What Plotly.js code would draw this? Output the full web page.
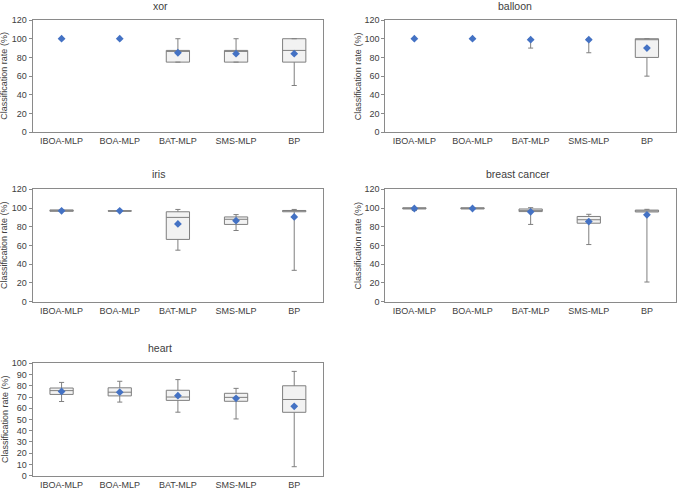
<!DOCTYPE html>
<html>
<head>
<meta charset="utf-8">
<script src="https://cdn.plot.ly/plotly-3.0.1.min.js"></script>
<style>html,body{margin:0;padding:0;background:#fff;}#chart{width:677px;height:489px;}</style>
</head>
<body>
<div id="chart"></div>
<script>
const categories = ['IBOA-MLP', 'BOA-MLP', 'BAT-MLP', 'SMS-MLP', 'BP'];
const datasetNames = ['xor', 'balloon', 'iris', 'breast cancer', 'heart'];

const xorMin  = [100, 100, 75, 75, 50];
const xorQ1   = [100, 100, 75, 75, 75];
const xorMed  = [100, 100, 87.5, 87.5, 87.5];
const xorQ3   = [100, 100, 87.5, 87.5, 100];
const xorMax  = [100, 100, 100, 100, 100];
const xorMean = [100, 100, 85, 84, 84];

const balloonMin  = [100, 100, 90, 85, 60];
const balloonQ1   = [100, 100, 100, 100, 80];
const balloonMed  = [100, 100, 100, 100, 100];
const balloonQ3   = [100, 100, 100, 100, 100];
const balloonMax  = [100, 100, 100, 100, 100];
const balloonMean = [100, 100, 99, 99, 90];

const irisMin  = [96.5, 96.67, 55, 76, 33.5];
const irisQ1   = [96.5, 96.67, 66.5, 82.5, 96];
const irisMed  = [97.2, 96.67, 90, 88, 97];
const irisQ3   = [98, 97.2, 96, 90.5, 97.4];
const irisMax  = [98, 97.2, 98.5, 93, 98.5];
const irisMean = [97, 97, 83, 86.5, 90.5];

const breastMin  = [97.3, 99, 82.5, 61, 21];
const breastQ1   = [99, 99, 96.2, 83.8, 95.8];
const breastMed  = [99.7, 99.7, 97.5, 87.5, 96.9];
const breastQ3   = [100.3, 100.3, 99, 91, 97.8];
const breastMax  = [100.3, 100.3, 100.4, 93.3, 98.6];
const breastMean = [99.5, 99.5, 96, 85.5, 92.8];

const heartMin  = [66, 65.5, 56.5, 50.5, 8];
const heartQ1   = [72.3, 71, 67, 66.2, 56.4];
const heartMed  = [75.7, 74.3, 70, 69.7, 67.8];
const heartQ3   = [78, 78.2, 76, 73.3, 80];
const heartMax  = [83, 84, 85.5, 77.7, 92.8];
const heartMean = [75, 74.3, 71.2, 68.8, 61.7];

const yTitle = 'Classification rate (%)';

const panels = [
  {min: xorMin, q1: xorQ1, med: xorMed, q3: xorQ3, max: xorMax, mean: xorMean},
  {min: balloonMin, q1: balloonQ1, med: balloonMed, q3: balloonQ3, max: balloonMax, mean: balloonMean},
  {min: irisMin, q1: irisQ1, med: irisMed, q3: irisQ3, max: irisMax, mean: irisMean},
  {min: breastMin, q1: breastQ1, med: breastMed, q3: breastQ3, max: breastMax, mean: breastMean},
  {min: heartMin, q1: heartQ1, med: heartMed, q3: heartQ3, max: heartMax, mean: heartMean}
];

const W = 677, H = 489;
const lineCol = '#8a8a8a';
const boxCol = '#7f7f7f';
const textCol = '#404040';
const font = 'Liberation Sans, Arial, sans-serif';

// pixel geometry of each plot area [left, right, top, bottom]
const geo = [
  [32.5, 323.3, 20, 132.3],
  [385.3, 676, 20, 132.3],
  [32.5, 323.3, 189.3, 301.7],
  [385.3, 676, 189.3, 301.7],
  [32.5, 323.3, 363.3, 475.7]
];
const titlePos = [[160, 6.5], [515, 6], [158, 173.5], [518, 174], [160, 347.5]];
const yTitleX = [4.5, 358, 4.5, 358, 4.5];

const data = [];
const layout = {
  width: W, height: H,
  margin: {l: 0, r: 0, t: 0, b: 0},
  paper_bgcolor: '#fff', plot_bgcolor: '#fff',
  showlegend: false,
  font: {family: font, size: 9, color: textCol},
  annotations: []
};

panels.forEach((p, i) => {
  const n = i + 1;
  const xa = n === 1 ? 'x' : 'x' + n;
  const ya = n === 1 ? 'y' : 'y' + n;
  const bx = [], bq1 = [], bmed = [], bq3 = [], blo = [], bhi = [];
  const wx = [], wy = [], wminus = [], wplus = [];
  categories.forEach((c, k) => {
    if (p.q3[k] > p.q1[k]) {
      bx.push(c); bq1.push(p.q1[k]); bmed.push(p.med[k]); bq3.push(p.q3[k]);
      blo.push(p.min[k]); bhi.push(p.max[k]);
    } else if (p.min[k] < p.q1[k] || p.max[k] > p.q3[k]) {
      wx.push(c); wy.push(p.q1[k]);
      wminus.push(p.q1[k] - p.min[k]); wplus.push(p.max[k] - p.q3[k]);
    }
  });
  data.push({
    type: 'box', x: bx, q1: bq1, median: bmed, q3: bq3,
    lowerfence: blo, upperfence: bhi,
    xaxis: xa, yaxis: ya,
    width: 0.4, whiskerwidth: 0.22,
    fillcolor: '#f2f2f2',
    line: {color: boxCol, width: 1},
    boxpoints: false, hoverinfo: 'skip'
  });
  if (wx.length) {
    data.push({
      type: 'scatter', mode: 'markers', x: wx, y: wy,
      xaxis: xa, yaxis: ya,
      marker: {size: 1, color: 'rgba(0,0,0,0)'},
      error_y: {type: 'data', symmetric: false, array: wplus, arrayminus: wminus,
                color: boxCol, thickness: 1, width: 2.5},
      hoverinfo: 'skip'
    });
  }
  data.push({
    type: 'scatter', mode: 'markers', x: categories, y: p.mean,
    xaxis: xa, yaxis: ya,
    marker: {symbol: 'diamond', size: 6, color: '#4472c4'},
    hoverinfo: 'skip'
  });

  const g = geo[i];
  const isHeart = i === 4;
  layout[(n === 1 ? 'xaxis' : 'xaxis' + n)] = {
    domain: [g[0] / W, g[1] / W], anchor: ya,
    type: 'category', categoryorder: 'array', categoryarray: categories,
    range: [-0.5, 4.5],
    showline: true, mirror: true, linecolor: lineCol, linewidth: 1,
    ticks: '', showgrid: false, zeroline: false,
    tickfont: {size: 9, color: textCol, family: font},
    fixedrange: true
  };
  layout[(n === 1 ? 'yaxis' : 'yaxis' + n)] = {
    domain: [1 - g[3] / H, 1 - g[2] / H], anchor: xa,
    range: isHeart ? [0, 100] : [0, 120],
    dtick: isHeart ? 10 : 20, tick0: 0,
    showline: true, mirror: true, linecolor: lineCol, linewidth: 1,
    ticks: 'outside', ticklen: 3, tickcolor: lineCol,
    showgrid: false, zeroline: false,
    tickfont: {size: 9, color: textCol, family: font},
    fixedrange: true
  };
  layout.annotations.push({
    xref: 'paper', yref: 'paper',
    x: titlePos[i][0] / W, y: 1 - titlePos[i][1] / H,
    xanchor: 'center', yanchor: 'middle',
    text: datasetNames[i], showarrow: false,
    font: {size: 10.5, color: textCol, family: font}
  });
  layout.annotations.push({
    xref: 'paper', yref: 'paper',
    x: yTitleX[i] / W, y: 1 - ((g[2] + g[3]) / 2) / H,
    xanchor: 'center', yanchor: 'middle',
    text: yTitle, textangle: -90, showarrow: false,
    font: {size: 9, color: textCol, family: font}
  });
});

Plotly.newPlot('chart', data, layout, {staticPlot: true, displayModeBar: false});
</script>
</body>
</html>
